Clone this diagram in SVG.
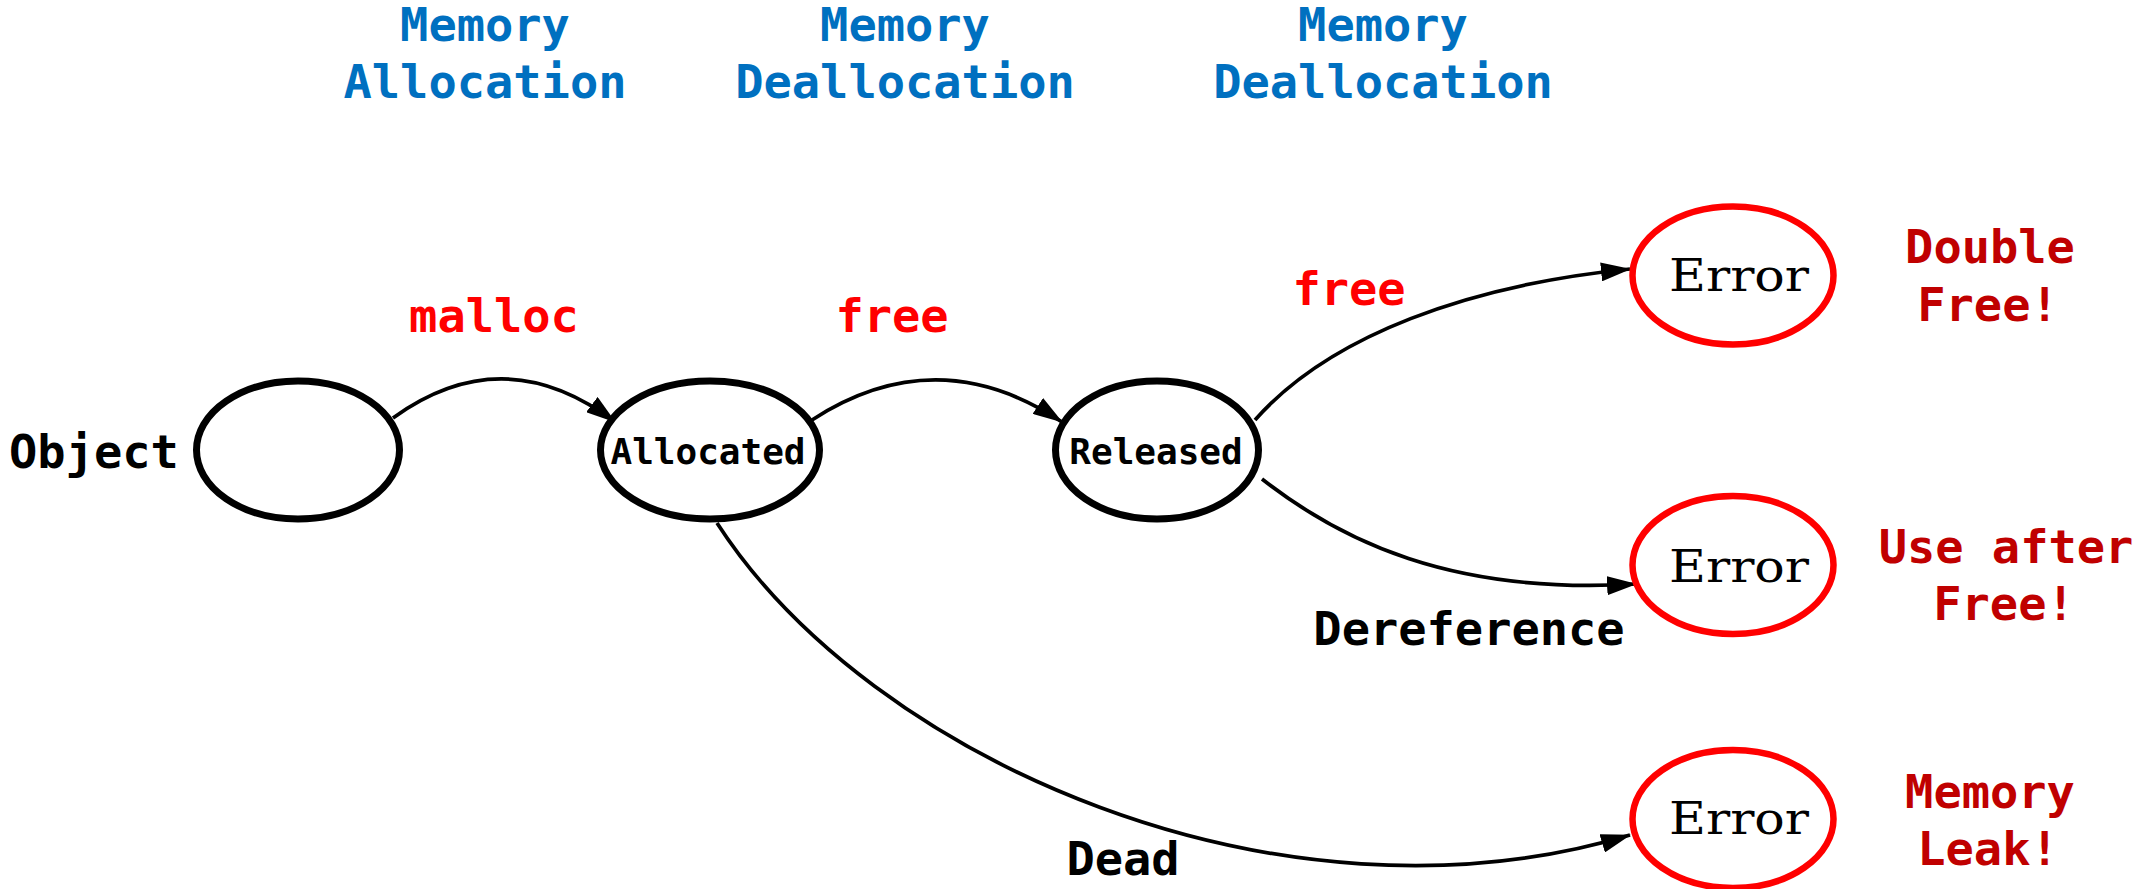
<svg xmlns="http://www.w3.org/2000/svg" width="2138" height="889" viewBox="0 0 2138 889">
<style>
.t{font-family:"DejaVu Sans Mono","Liberation Mono",monospace;font-weight:bold;font-size:47px}
.title{fill:#0070C0;text-anchor:middle}
.op{fill:#FF0000;text-anchor:middle}
.err{fill:#C00000;text-anchor:middle}
.lbl{fill:#000000}
.st{fill:#ffffff;stroke:#000000;stroke-width:7}
.es{fill:#ffffff;stroke:#FF0000;stroke-width:6.5}
.nt{font-family:"DejaVu Sans Mono","Liberation Mono",monospace;font-weight:bold;font-size:36px;text-anchor:middle;fill:#000}
.et{font-family:"DejaVu Serif","Liberation Serif",serif;font-size:45px;text-anchor:middle;fill:#000}
.edge{fill:none;stroke:#000;stroke-width:3.7;marker-end:url(#arr)}
</style>
<defs>
<marker id="arr" markerWidth="30" markerHeight="19" refX="29" refY="9.5" orient="auto" markerUnits="userSpaceOnUse">
<path d="M0,0 L30,9.5 L0,19 z" fill="#000"/>
</marker>
</defs>
<rect width="2138" height="889" fill="#ffffff"/>
<g id="titles">
<text class="t title" x="485" y="41">Memory</text>
<text class="t title" x="485" y="98">Allocation</text>
<text class="t title" x="905" y="41">Memory</text>
<text class="t title" x="905" y="98">Deallocation</text>
<text class="t title" x="1383" y="41">Memory</text>
<text class="t title" x="1383" y="98">Deallocation</text>
</g>
<g id="connectors">
<path class="edge" d="M393,418 Q504,338 615,422"/>
<path class="edge" d="M812,420 Q937,339 1062,422"/>
<path class="edge" d="M1255,420 C1330,335 1470,285 1630,269"/>
<path class="edge" d="M1262,479 C1340,540 1450,595 1636,584"/>
<path class="edge" d="M717,523 C870,760 1280,940 1630,835"/>
<text class="t op" x="494" y="332">malloc</text>
<text class="t op" x="892" y="332">free</text>
<text class="t op" x="1349" y="305">free</text>
<text class="t lbl" x="1469" y="645" text-anchor="middle">Dereference</text>
<text class="t lbl" x="1123" y="875" text-anchor="middle">Dead</text>
</g>
<g id="object">
<ellipse class="st" cx="298" cy="450" rx="101.5" ry="69"/>
<text class="t lbl" x="9" y="468">Object</text>
</g>
<g id="allocated">
<ellipse class="st" cx="710" cy="450" rx="109.5" ry="69"/>
<text class="nt" x="708" y="464">Allocated</text>
</g>
<g id="released">
<ellipse class="st" cx="1157" cy="450" rx="101.5" ry="69"/>
<text class="nt" x="1156" y="464">Released</text>
</g>
<g id="error1">
<ellipse class="es" cx="1733" cy="275.5" rx="100.5" ry="69"/>
<text class="et" x="1739" y="291" textLength="140" lengthAdjust="spacingAndGlyphs">Error</text>
<text class="t err" x="1990" y="263">Double</text>
<text class="t err" x="1988" y="321">Free!</text>
</g>
<g id="error2">
<ellipse class="es" cx="1733" cy="565" rx="100.5" ry="69"/>
<text class="et" x="1739" y="582" textLength="140" lengthAdjust="spacingAndGlyphs">Error</text>
<text class="t err" x="2006" y="563">Use after</text>
<text class="t err" x="2004" y="620">Free!</text>
</g>
<g id="error3">
<ellipse class="es" cx="1733" cy="819" rx="100.5" ry="69"/>
<text class="et" x="1739" y="834" textLength="140" lengthAdjust="spacingAndGlyphs">Error</text>
<text class="t err" x="1990" y="808">Memory</text>
<text class="t err" x="1988" y="865">Leak!</text>
</g>
</svg>
